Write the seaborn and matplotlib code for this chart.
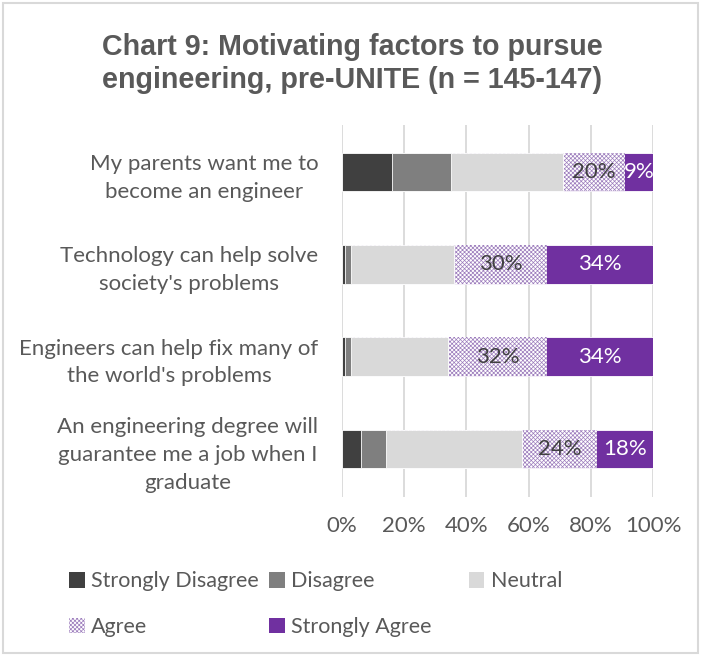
import matplotlib
matplotlib.use("Agg")
import matplotlib.pyplot as plt
import seaborn as sns
import pandas as pd
from matplotlib.patches import Patch, Rectangle

# Survey statements (bars, top to bottom)
statements = [
    "My parents want me to\nbecome an engineer",
    "Technology can help solve\nsociety's problems",
    "Engineers can help fix many of\nthe world's problems",
    "An engineering degree will\nguarantee me a job when I\ngraduate",
]
levels = ["Strongly Disagree", "Disagree", "Neutral", "Agree", "Strongly Agree"]

# Percent of respondents per response level
strongly_disagree = [16, 1, 1, 6]
disagree = [19, 2, 2, 8]
neutral = [36, 33, 31, 44]
agree = [20, 30, 32, 24]
strongly_agree = [9, 34, 34, 18]

tick_values = [0, 20, 40, 60, 80, 100]
tick_labels = ["0%", "20%", "40%", "60%", "80%", "100%"]

colors = {
    "Strongly Disagree": "#404040",
    "Disagree": "#7f7f7f",
    "Neutral": "#d9d9d9",
    "Agree": "#ffffff",
    "Strongly Agree": "#7030a0",
}
HATCH = "#9c7cbc"
TEXT = "#595959"
FS = 16

sns.set_theme(style="white")
plt.rcParams["font.family"] = ["Lato", "DejaVu Sans"]
plt.rcParams["hatch.linewidth"] = 0.5

series = [strongly_disagree, disagree, neutral, agree, strongly_agree]
df = pd.DataFrame({lvl: vals for lvl, vals in zip(levels, series)})
df["statement"] = statements
cum = df[levels].cumsum(axis=1)
cum["statement"] = statements

fig = plt.figure(figsize=(7.01, 6.56), dpi=100)
ax = fig.add_axes([0.488, 0.2424, 0.4435, 0.567])

# Stacked bars: draw cumulative totals from the outermost segment inward
for lvl in reversed(levels):
    n_before = len(ax.patches)
    sns.barplot(data=cum, x=lvl, y="statement", orient="h", color=colors[lvl],
                saturation=1, width=0.42, ax=ax, zorder=2)
    for p in ax.patches[n_before:]:
        if lvl == "Agree":
            p.set_facecolor("white")
            p.set_edgecolor(HATCH)
            p.set_hatch("xxxxxxxx")
            p.set_linewidth(0)
        else:
            p.set_edgecolor("white")
            p.set_linewidth(0.6)

# Value labels on the two agreement segments
for i in range(len(statements)):
    a0 = cum.loc[i, "Neutral"]
    ax.text(a0 + agree[i] / 2, i, f"{agree[i]}%", ha="center", va="center",
            fontsize=FS, color="#404040", zorder=5)
    s0 = cum.loc[i, "Agree"]
    ax.text(s0 + strongly_agree[i] / 2, i, f"{strongly_agree[i]}%", ha="center",
            va="center", fontsize=FS, color="white", zorder=5)

ax.set_xlim(0, 100)
ax.set_ylim(3.52, -0.51)
ax.set_xticks(tick_values)
ax.set_xticklabels(tick_labels)
ax.set_xlabel("")
ax.set_ylabel("")
ax.xaxis.grid(True, color="#d9d9d9", linewidth=1.3, zorder=0)
ax.set_axisbelow(True)
for s in ax.spines.values():
    s.set_visible(False)
ax.tick_params(axis="x", length=0, pad=14, labelsize=FS, labelcolor=TEXT)
ax.tick_params(axis="y", length=0, pad=17, labelsize=FS, labelcolor=TEXT)
for lab in ax.get_yticklabels():
    lab.set_multialignment("center")
    lab.set_linespacing(1.48)

fig.suptitle("Chart 9: Motivating factors to pursue\nengineering, pre-UNITE (n = 145-147)",
             x=0.502, y=0.95, fontsize=20.6, fontweight="bold", color=TEXT,
             family="Liberation Sans", linespacing=1.22, va="top")

# Legend laid out as an even three-column grid
def handle(lvl):
    if lvl == "Agree":
        return Patch(facecolor="white", edgecolor=HATCH, hatch="xxxxxxxx", linewidth=0)
    return Patch(facecolor=colors[lvl], edgecolor="none")

columns = [["Strongly Disagree", "Agree"], ["Disagree", "Strongly Agree"], ["Neutral"]]
col_x = [0.099, 0.384, 0.669]
for cx, col in zip(col_x, columns):
    fig.legend(handles=[handle(l) for l in col], labels=col, loc="upper left",
               bbox_to_anchor=(cx, 0.129), frameon=False, fontsize=15.5,
               labelcolor=TEXT, handlelength=0.72, handleheight=0.72,
               handletextpad=0.3, labelspacing=1.18, borderaxespad=0, borderpad=0)

fig.add_artist(Rectangle((0.004, 0.004), 0.992, 0.992, transform=fig.transFigure,
                         fill=False, edgecolor="#d9d9d9", linewidth=1.5))

fig.savefig("out.png", dpi=100, facecolor="white")
